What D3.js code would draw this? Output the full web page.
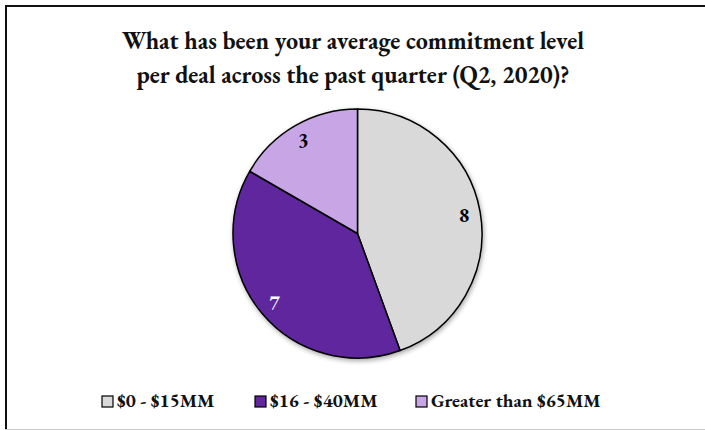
<!DOCTYPE html>
<html>
<head>
  <meta charset="utf-8">
  <title>Commitment level per deal</title>
  <script src="https://d3js.org/d3.v7.min.js"></script>
  <style>
    body { margin: 0; background: #fff; }
    text { font-family: "EB Garamond", Garamond, "Liberation Serif", "DejaVu Serif", serif; font-weight: bold; }
  </style>
</head>
<body>
  <svg id="chart"></svg>
  <script>
    // chart data
    const categories = ["$0 - $15MM", "$16 - $40MM", "Greater than $65MM"];
    const counts = [8, 7, 3];
    const colors = ["#d9d9d9", "#60269e", "#c8a6e6"];
    const labelColors = ["#000", "#fff", "#000"];
    const titleLines = ["What has been your average commitment level", "per deal across the past quarter (Q2, 2020)?"];

    const width = 705, height = 430;
    const cx = 357.5, cy = 233.5, radius = 124.5;

    const svg = d3.select("#chart")
      .attr("width", width)
      .attr("height", height);

    // frame
    svg.append("rect")
      .attr("x", 0).attr("y", 0).attr("width", width).attr("height", height)
      .attr("fill", "#fff");
    svg.append("line")
      .attr("x1", 5).attr("x2", width).attr("y1", 6).attr("y2", 6)
      .attr("stroke", "#111").attr("stroke-width", 2);
    svg.append("line")
      .attr("x1", 6).attr("x2", 6).attr("y1", 5).attr("y2", 429)
      .attr("stroke", "#111").attr("stroke-width", 2);
    svg.append("line")
      .attr("x1", 5).attr("x2", width).attr("y1", 429.5).attr("y2", 429.5)
      .attr("stroke", "#c8c8c8").attr("stroke-width", 1);

    // title
    svg.append("g").selectAll("text")
      .data(titleLines)
      .join("text")
      .attr("x", 353)
      .attr("y", (d, i) => 49 + i * 34)
      .attr("text-anchor", "middle")
      .attr("font-size", 24)
      .attr("fill", "#111")
      .text(d => d);

    // soft shadow under the pie
    const defs = svg.append("defs");
    const f = defs.append("filter").attr("id", "shadow")
      .attr("x", "-20%").attr("y", "-20%").attr("width", "140%").attr("height", "140%");
    f.append("feGaussianBlur").attr("in", "SourceAlpha").attr("stdDeviation", 2.5);
    f.append("feOffset").attr("dx", 1).attr("dy", 2).attr("result", "b");
    f.append("feComponentTransfer").append("feFuncA").attr("type", "linear").attr("slope", 0.35);
    const m = f.append("feMerge");
    m.append("feMergeNode");
    m.append("feMergeNode").attr("in", "SourceGraphic");

    const pie = d3.pie().sort(null).value(d => d);
    const arcs = pie(counts);
    const arc = d3.arc().innerRadius(0).outerRadius(radius);
    const labelArc = d3.arc().innerRadius(radius * 0.87).outerRadius(radius * 0.87);

    const g = svg.append("g").attr("transform", `translate(${cx}, ${cy})`);

    g.append("g").attr("filter", "url(#shadow)")
      .selectAll("path")
      .data(arcs)
      .join("path")
      .attr("d", arc)
      .attr("fill", (d, i) => colors[i])
      .attr("stroke", "#000")
      .attr("stroke-width", 1.5)
      .attr("stroke-linejoin", "round");

    g.selectAll(".lbl")
      .data(arcs)
      .join("text")
      .attr("class", "lbl")
      .attr("transform", d => `translate(${labelArc.centroid(d)})`)
      .attr("text-anchor", "middle")
      .attr("dy", "0.35em")
      .attr("font-size", 20)
      .attr("fill", (d, i) => labelColors[i])
      .text(d => d.data);

    // legend
    const legendX = [102, 255, 416];
    const legend = svg.append("g").selectAll("g")
      .data(categories)
      .join("g")
      .attr("transform", (d, i) => `translate(${legendX[i]}, 396)`);
    legend.append("rect")
      .attr("width", 11).attr("height", 11)
      .attr("fill", (d, i) => colors[i])
      .attr("stroke", "#000").attr("stroke-width", 1.2);
    legend.append("text")
      .attr("x", 15).attr("y", 11)
      .attr("font-size", 19)
      .attr("fill", "#111")
      .text(d => d);
  </script>
</body>
</html>
